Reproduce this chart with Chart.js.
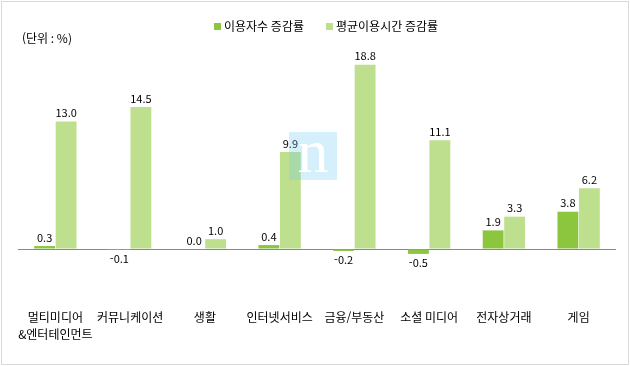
<!DOCTYPE html>
<html lang="ko">
  <head>
    <meta charset="utf-8" />
    <title>이용자수 / 평균이용시간 증감률</title>
    <style>
      * {
        margin: 0;
        padding: 0;
      }
      body {
        background: #fff;
      }
      .chartBox {
        width: 630px;
        height: 366px;
      }
    </style>
  </head>
  <body>
    <div class="chartBox">
      <canvas id="myChart" width="630" height="366"></canvas>
    </div>

    <script src="https://cdn.jsdelivr.net/npm/chart.js@4.2.0/dist/chart.umd.min.js"></script>

    <script>
      // data block
      const categories = [
        ["멀티미디어", "&엔터테인먼트"],
        "커뮤니케이션",
        "생활",
        "인터넷서비스",
        "금융/부동산",
        "소셜 미디어",
        "전자상거래",
        "게임",
      ];
      const seriesNames = ["이용자수 증감률", "평균이용시간 증감률"];
      const userGrowth = [0.3, -0.1, 0.0, 0.4, -0.2, -0.5, 1.9, 3.8];
      const timeGrowth = [13.0, 14.5, 1.0, 9.9, 18.8, 11.1, 3.3, 6.2];
      const unitLabel = "(단위 : %)";

      const FONT = "'Noto Sans CJK KR', 'Noto Sans', sans-serif";
      const DARK = "#8cc63f";
      const LIGHT = "#bedf8e";

      const data = {
        labels: categories,
        datasets: [
          {
            label: seriesNames[0],
            data: userGrowth,
            backgroundColor: DARK,
          },
          {
            label: seriesNames[1],
            data: timeGrowth,
            backgroundColor: LIGHT,
          },
        ],
      };

      // border, unit text and legend
      const frame = {
        id: "frame",
        beforeDraw(chart) {
          const { ctx } = chart;
          ctx.save();
          ctx.fillStyle = "#fff";
          ctx.fillRect(0, 0, chart.width, chart.height);
          ctx.strokeStyle = "#d9d9d9";
          ctx.lineWidth = 1;
          ctx.strokeRect(1.5, 1.5, chart.width - 3, chart.height - 3);

          ctx.font = "12px " + FONT;
          ctx.fillStyle = "#000";
          ctx.textBaseline = "middle";
          ctx.textAlign = "left";
          ctx.fillText(unitLabel, 22, 38);

          // legend
          let x = 214;
          chart.data.datasets.forEach((ds) => {
            ctx.fillStyle = ds.backgroundColor;
            ctx.fillRect(x, 23, 7, 7);
            ctx.fillStyle = "#000";
            ctx.fillText(ds.label, x + 10, 26);
            x += 10 + ctx.measureText(ds.label).width + 22;
          });
          ctx.restore();
        },
      };

      const valueLabels = {
        id: "valueLabels",
        afterDatasetsDraw(chart) {
          const { ctx } = chart;
          ctx.save();
          ctx.font = "11px " + FONT;
          ctx.fillStyle = "#000";
          ctx.textAlign = "center";
          ctx.textBaseline = "middle";
          chart.data.datasets.forEach((ds, i) => {
            chart.getDatasetMeta(i).data.forEach((bar, j) => {
              const v = ds.data[j];
              const y = v >= 0 ? bar.y - 8.5 : bar.y + 9;
              ctx.fillText(v.toFixed(1), bar.x, y);
            });
          });
          ctx.restore();
        },
      };

      // faint "n" mark in the middle
      const watermark = {
        id: "watermark",
        afterDraw(chart) {
          const { ctx } = chart;
          ctx.save();
          ctx.fillStyle = "rgba(108, 201, 240, 0.28)";
          ctx.fillRect(289, 132, 48, 48);
          ctx.fillStyle = "#fff";
          ctx.font = "62px 'Liberation Serif', serif";
          ctx.textAlign = "center";
          ctx.textBaseline = "alphabetic";
          ctx.fillText("n", 313, 172);
          ctx.restore();
        },
      };

      // config block
      const config = {
        type: "bar",
        data: data,
        options: {
          responsive: false,
          animation: false,
          layout: {
            padding: { top: 53, left: 18, right: 14, bottom: 0 },
          },
          datasets: {
            bar: {
              barPercentage: 0.97,
              categoryPercentage: 0.575,
            },
          },
          scales: {
            x: {
              grid: { display: false },
              border: { display: false },
              ticks: {
                color: "#000",
                padding: 3,
                maxRotation: 0,
                autoSkip: false,
                font: { family: FONT, size: 12, lineHeight: 1.4 },
              },
              afterFit(scale) {
                scale.height = 68;
              },
            },
            y: {
              min: -5,
              max: 20,
              ticks: { display: false, stepSize: 5 },
              border: { display: false },
              grid: {
                drawTicks: false,
                lineWidth: 1,
                color: (ctx) =>
                  ctx.tick && ctx.tick.value === 0 ? "#898989" : "transparent",
              },
              afterFit(scale) {
                scale.width = 0;
              },
            },
          },
          plugins: {
            legend: { display: false },
            tooltip: { enabled: false },
          },
        },
        plugins: [frame, valueLabels, watermark],
      };

      // init render block
      const myChart = new Chart(document.getElementById("myChart"), config);
    </script>
  </body>
</html>
